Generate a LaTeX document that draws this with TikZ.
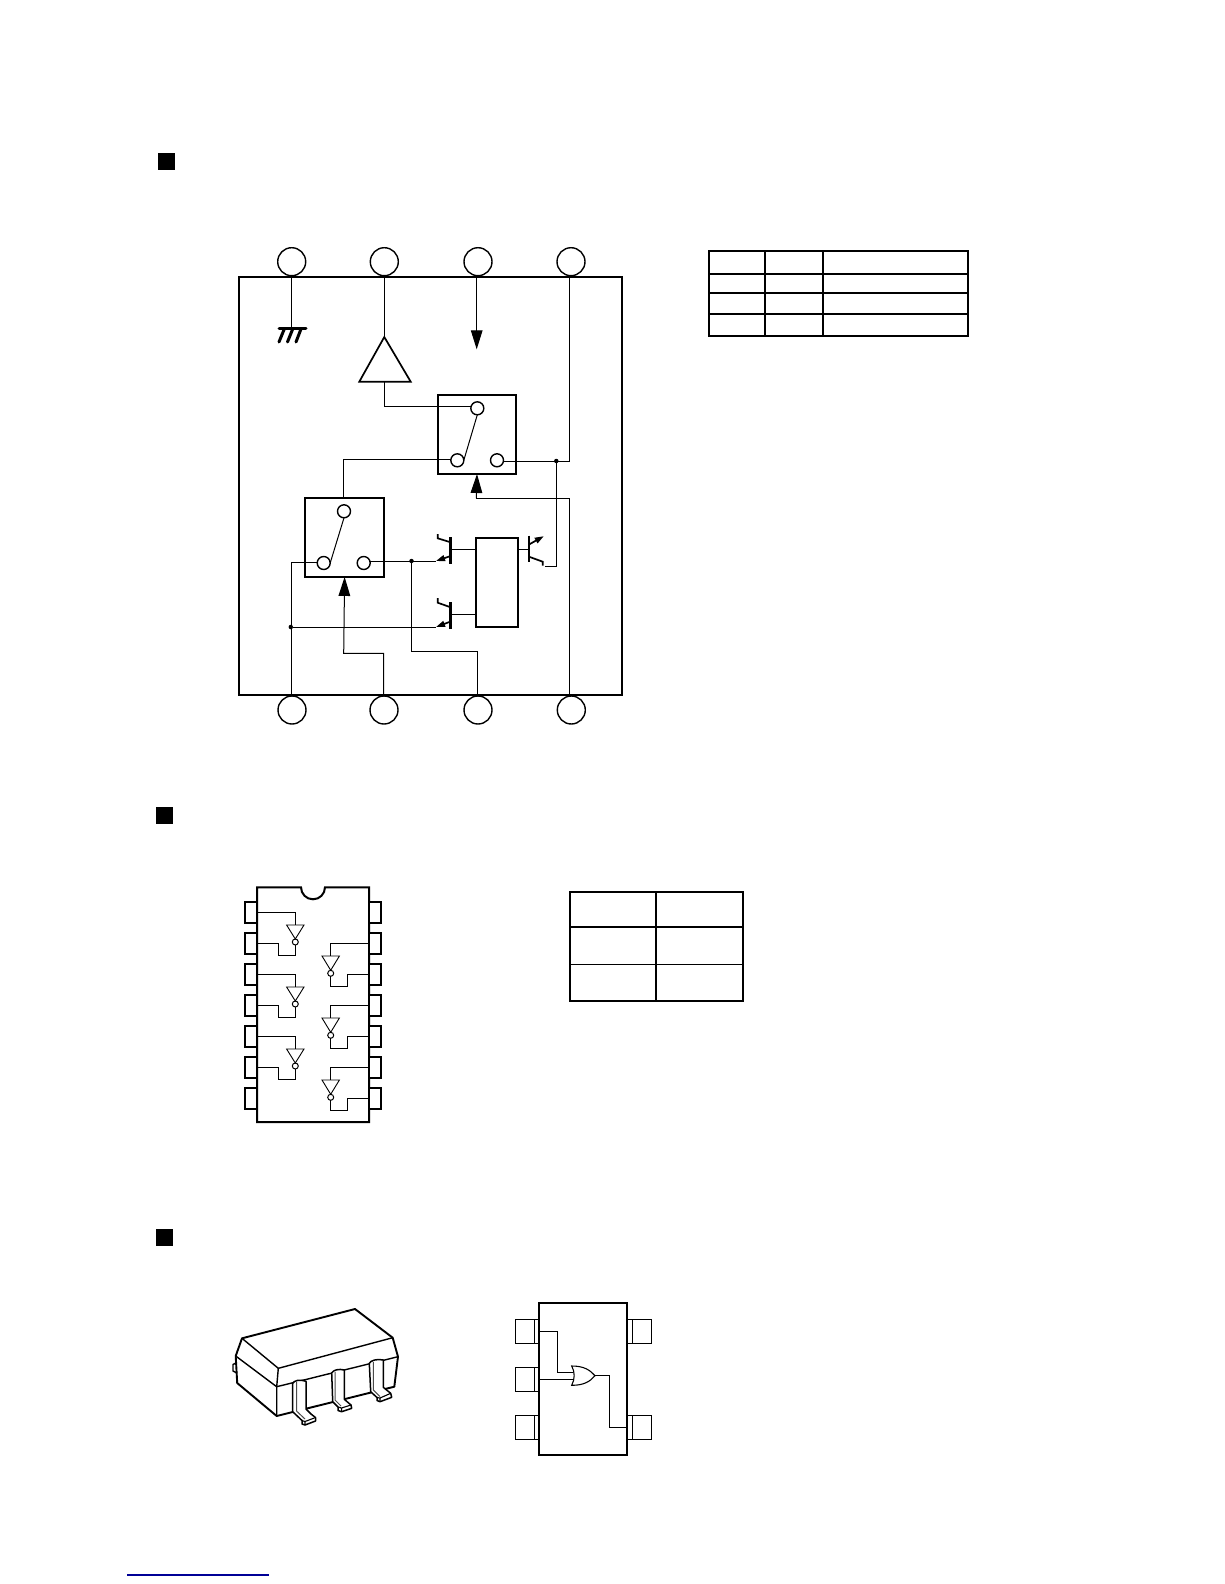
\documentclass[tikz,border=0pt]{standalone}
\usetikzlibrary{arrows.meta,calc}
\tikzset{
  wire/.style={line width=1bp,black},
  thin wire/.style={line width=0.9bp,black},
  heavy/.style={line width=2bp,black},
  trans/.style={line width=1.7bp,black},
  frame/.style={draw=black,line width=2bp,inner sep=0pt,outer sep=0pt,fill=white},
  pinring/.style={circle,draw=black,line width=1.4bp,fill=white,minimum size=28bp,inner sep=0pt,outer sep=0pt},
  contact/.style={circle,draw=black,line width=1.4bp,fill=white,minimum size=13bp,inner sep=0pt,outer sep=0pt},
  junction/.style={circle,fill=black,minimum size=4.5bp,inner sep=0pt,outer sep=0pt},
  bubble/.style={circle,draw=black,line width=1bp,fill=white,minimum size=6bp,inner sep=0pt,outer sep=0pt},
  bullet/.style={fill=black,inner sep=0pt,outer sep=0pt,minimum size=17bp},
  dippin/.style={frame,minimum width=12bp,minimum height=21bp},
  sotpin/.style={draw=black,line width=1.1bp,fill=white,inner sep=0pt,outer sep=0pt,minimum width=23.7bp,minimum height=24bp},
  bigtip/.style={-{Triangle[length=19bp,width=11.6bp]}},
  smalltip/.style={-{Triangle[length=9bp,width=6bp]}},
  lead/.style={draw=black,line width=1.5bp,fill=white,line join=round},
  leadin/.style={line width=1bp,black!70},
  leadf/.style={line width=1.1bp,black},
}
\begin{document}
\begin{tikzpicture}[x=1bp,y=-1bp]
\useasboundingbox (0,0) rectangle (1224,1584);
% bullets
\node[bullet] (b1) at (166,161) {};
\node[bullet] (b2) at (164,815) {};
\node[bullet] (b3) at (164,1237) {};

% ---------- block diagram
\node[frame,minimum width=383bp,minimum height=418bp] (main) at (430.5,486) {};
\foreach \n/\x in {t1/291.7,t2/384.3,t3/478,t4/571}
  \node[pinring] (\n) at (\x,261.7) {};
\foreach \n/\x in {u1/292,u2/384,u3/478,u4/571.3}
  \node[pinring] (\n) at (\x,710) {};

\coordinate (gnd) at (291.5,328);
\draw[wire] (291.5,277) -- (gnd);
\draw[line width=3bp,line cap=round] (279,328.5) -- (306,328.5);
\draw[line width=3bp,line cap=round] (284.3,329) -- (279,342) (292.7,329) -- (287.5,342) (301,329) -- (296,342);

% amplifier
\coordinate (ampin) at (384.3,337);
\coordinate (ampout) at (384.3,381.7);
\draw[wire] (384.3,277) -- (ampin);
\draw[line width=1.7bp,line join=miter] (ampin) -- (359.3,381.7) -- (410.7,381.7) -- cycle;

% arrow from pin 3
\coordinate (t3a) at (476.7,277);
\coordinate (t3tip) at (476.7,349.3);
\draw[wire,bigtip] (t3a) -- (t3tip);

% switches
\node[frame,minimum width=78bp,minimum height=79bp] (sw1) at (477,434.5) {};
\node[frame,minimum width=79.3bp,minimum height=79.3bp] (sw2) at (344.6,537.3) {};
\node[contact] (s1a) at (477.3,408.3) {};
\node[contact] (s1b) at (457.3,460.3) {};
\node[contact] (s1c) at (497,460.3) {};
\node[contact] (s2a) at (344,511.3) {};
\node[contact] (s2b) at (323.7,563) {};
\node[contact] (s2c) at (363.7,563) {};
\draw[wire] (s1a.south) -- (s1b.east);
\draw[wire] (s2a.south) -- (s2b.east);

% decoder and transistors
\node[frame,minimum width=42.3bp,minimum height=89bp] (dec) at (496.8,582.2) {};
\draw[line width=2.6bp] (450.7,537.3) -- (450.7,564.3);
\draw[line width=2.6bp] (450.7,602.3) -- (450.7,629);
\draw[line width=2.6bp] (529,535.7) -- (529,561.7);
\coordinate (q1e) at (436,561);
\coordinate (q2e) at (436,627);
\coordinate (q3e) at (543.8,536.2);
\coordinate (q3c) at (542.7,565.7);
\draw[wire] (450.7,549.3) -- (475.7,549.3);
\draw[wire] (450.7,614.3) -- (475.7,614.3);
\draw[wire] (518,549.3) -- (529,549.3);
\draw[trans] (450.7,542.3) -- (437.7,538.3) -- (437.7,534);
\draw[trans] (450.7,607.3) -- (437.7,602.7) -- (437.7,598);
\draw[trans,smalltip] (450.7,556) -- (q1e);
\draw[trans,smalltip] (450.7,621.5) -- (q2e);
\draw[trans,smalltip] (529,544.5) -- (q3e);
\draw[trans] (529,556.7) -- (542.7,561.7) -- (q3c);

% junctions
\node[junction] (j1) at (556.3,461) {};
\node[junction] (j2) at (411.5,561) {};
\node[junction] (j3) at (290.8,627) {};

% wiring
\draw[wire] (ampout) |- (s1a.west |- 0,406);
\draw[wire] (s1b.west |- 0,459.3) -| (343.7,497.7);
\draw[wire] (s1c.east |- 0,461) -| (569.3,277);
\draw[wire] (j1) |- (545,566.3);
\coordinate (u4w) at (569.3,695);
\coordinate (u2w) at (383.7,695);
\coordinate (u3w) at (477.7,695);
\coordinate (u1w) at (291.3,695);
\draw[wire] (u4w) |- (476.3,498.3) -- (476.3,489);
\draw[wire,bigtip] (476.3,498.3) -- (sw1.south);
\draw[wire,bigtip] (u2w) |- (343.7,653.3) -- (sw2.south);
\draw[wire] (s2c.east |- 0,561) -- (q1e);
\draw[wire] (j2) |- (u3w |- 0,651.3) -- (u3w);
\draw[wire] (s2b.west |- 0,562.3) -| (u1w);
\draw[wire] (j3) -- (q2e);

% pin table
\draw[line width=2bp] (709,251) rectangle (968,336);
\draw[line width=2bp] (709,274) -- (968,274) (709,293) -- (968,293) (709,314) -- (968,314)
  (765,251) -- (765,336) (823,251) -- (823,336);

% ---------- DIP package
\draw[heavy,fill=white] (257,887.3) -- (301,887.3) arc[start angle=180,end angle=360,radius=12bp] -- (369,887.3) -- (369,1122) -- (257,1122) -- cycle;
\foreach \i in {1,...,7} {
  \node[dippin] (dl\i) at (251,{912.2+31*(\i-1)}) {};
  \node[dippin] (dr\i) at (375,{912.2+31*(\i-1)}) {};
}
\foreach \k/\a/\b in {0/1/2,1/3/4,2/5/6} {
  \coordinate (lt\k) at (295.3,{925+62*\k});
  \node[bubble] (lb\k) at (295.3,{942+62*\k}) {};
  \draw[thin wire] (dl\a.east) -| (lt\k);
  \draw[thin wire] (lt\k) ++(-8.7,0) -- ++(17.4,0) -- (lb\k.north) -- cycle;
  \draw[thin wire] (lb\k.south) |- (278.3,{955.3+62*\k}) |- (dl\b.east);
}
\foreach \k/\a/\b in {0/2/3,1/4/5,2/6/7} {
  \coordinate (rt\k) at (330.7,{956+62*\k});
  \node[bubble] (rb\k) at (330.7,{973.3+62*\k}) {};
  \draw[thin wire] (dr\a.west) -| (rt\k);
  \draw[thin wire] (rt\k) ++(-8.7,0) -- ++(17.4,0) -- (rb\k.north) -- cycle;
  \draw[thin wire] (rb\k.south) |- (347.7,{986+62*\k}) |- (dr\b.west);
}

% truth table
\draw[line width=2bp] (570,891.7) -- (743.3,891.7) (570,927.3) -- (743.3,927.3);
\draw[line width=1.3bp] (570,964.3) -- (743.3,964.3) (570,1001) -- (743.3,1001);
\draw[line width=2bp] (570,891) -- (570,1001.5) (656,891) -- (656,1001.5) (743.3,891) -- (743.3,1001.5);

% ---------- SOT package drawing
\draw[line width=1.4bp,line join=round,fill=white] (236,1363) -- (233,1364.5) -- (233,1371) -- (237,1373);
\draw[line width=1.9bp,line join=round] (242,1338.3) -- (355,1309) -- (392.7,1337.7) -- (398,1356.7) -- (394.3,1386.7) -- (276.7,1416) -- (237.2,1383) -- (235.7,1356) -- cycle;
\draw[line width=1.4bp,line join=round] (242,1338.3) -- (278.3,1368.3) -- (392.7,1337.7);
\draw[line width=1.4bp,line join=round] (235.7,1356) -- (276.7,1386.7) -- (398,1356.7);
\draw[line width=1.4bp] (278.3,1368.3) -- (276.7,1386.7) -- (276.7,1416);
% leads
\draw[lead] (292.7,1383.3) .. controls (294,1380.5) and (300,1379) .. (306,1381.3) -- (306,1409) -- (311,1414) -- (315.5,1417.5) -- (315.5,1421) -- (305,1425) -- (302,1424) -- (302,1420.5) -- (292.7,1411.7) -- cycle;
\draw[leadin] (296.5,1382) -- (296.5,1411) -- (305,1419);
\draw[leadf] (302,1420.5) -- (305,1421.5) -- (315.5,1417.5) (305,1421.5) -- (305,1425);
\draw[lead] (331.7,1373) .. controls (333,1370) and (339,1368.5) .. (344.3,1370) -- (344.3,1399.3) -- (351,1405) -- (351.7,1408.3) -- (341.7,1411.7) -- (338,1410.5) -- (338,1407) -- (332.7,1401.7) -- cycle;
\draw[leadin] (335,1372) -- (335,1400) -- (341,1406);
\draw[leadf] (338,1407) -- (341.5,1408) -- (351,1405) (341.5,1408) -- (341.7,1411.7);
\draw[lead] (369.3,1363.3) .. controls (370.5,1360.5) and (377,1358.5) .. (383.3,1360) -- (383.3,1387.3) -- (390.7,1393.3) -- (391.7,1397.3) -- (380,1401.7) -- (377,1400.5) -- (377,1397.5) -- (370.7,1391.7) -- cycle;
\draw[leadin] (373.3,1362) -- (373.3,1390) -- (380,1396.5);
\draw[leadf] (377,1397.5) -- (380,1398) -- (390.7,1393.3) (380,1398) -- (380,1401.7);

% ---------- SOT schematic
\node[frame,minimum width=88bp,minimum height=151.7bp] (sot) at (583,1379.2) {};
\node[sotpin] (pa) at (527.2,1331.3) {};
\node[sotpin] (pb) at (527.2,1379.3) {};
\node[sotpin] (pc) at (527.2,1427.3) {};
\node[sotpin] (pd) at (639.5,1331.3) {};
\node[sotpin] (pe) at (639.5,1427.3) {};
\draw[wire] (534.3,1319.3) -- (534.3,1343.3) (534.3,1367.3) -- (534.3,1391.3) (534.3,1415.3) -- (534.3,1439.3);
\draw[wire] (632.3,1319.3) -- (632.3,1343.3) (632.3,1415.3) -- (632.3,1439.3);
\draw[heavy] (539,1303.3) -- (539,1455) (627,1303.3) -- (627,1455);
\coordinate (ga) at (572.7,1372);
\coordinate (gb) at (573.3,1379.3);
\coordinate (gout) at (595,1375.7);
\draw[wire] (pa.east) -| (557.3,1372) -- (ga);
\draw[wire] (pb.east) -- (gb);
\draw[wire] (gout) -| (609,1427.3) -- (pe.west);
\draw[line width=1.1bp,fill=white] (571.7,1366) .. controls (584,1366) and (590,1370) .. (gout) .. controls (590,1381.5) and (584,1385.3) .. (571.7,1385.3) .. controls (575,1379) and (575,1372) .. (571.7,1366) -- cycle;

% underline
\draw[line width=1.2bp,color={rgb,255:red,0;green,0;blue,150}] (127,1575) -- (269,1575);
\end{tikzpicture}
\end{document}
